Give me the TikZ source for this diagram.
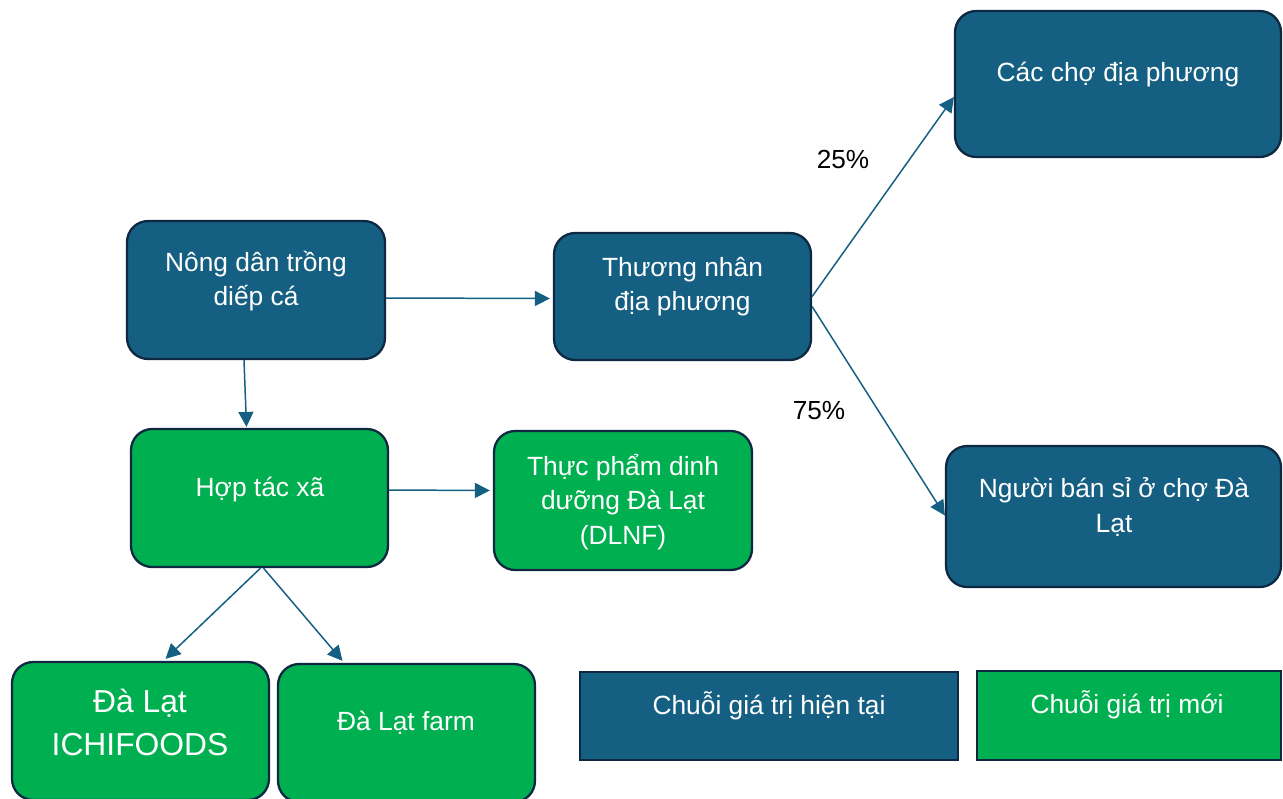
\documentclass[tikz,border=0pt]{standalone}
\usepackage{fontspec}
\setmainfont{Liberation Sans}
\usetikzlibrary{arrows.meta, calc}
\definecolor{chainblue}{RGB}{21, 96, 130}
\definecolor{chaingreen}{RGB}{0, 176, 80}
\definecolor{edgedark}{RGB}{14, 40, 65}

\tikzset{
  stage/.style={draw=edgedark, line width=1.3pt, rounded corners=12pt, inner sep=0pt},
  oldstage/.style={stage, fill=chainblue},
  newstage/.style={stage, fill=chaingreen},
  legendbox/.style={draw=edgedark, line width=1.3pt, inner sep=0pt},
  inlabel/.style={text=white, align=center, font=\fontsize{15}{19.4}\selectfont},
  biglabel/.style={text=white, align=center, font=\fontsize{18.1}{24.4}\selectfont},
  share/.style={text=black, font=\fontsize{14.9}{18}\selectfont},
  flow/.style={draw=chainblue, line width=0.85pt, -{Triangle[length=8.5pt, width=8.5pt]}}
}

\begin{document}
\begin{tikzpicture}[x=0.02cm, y=-0.02cm]
  \useasboundingbox (0,0) rectangle (1283,798);

  % Current chain
  \node[oldstage, minimum width=5.16cm, minimum height=2.76cm] (farmer) at (256,290) {};
  \node[inlabel] (farmer-l) at (256,281) {Nông dân trồng\\diếp cá};

  \node[oldstage, minimum width=5.14cm, minimum height=2.54cm] (trader) at (682.5,296.5) {};
  \node[inlabel] (trader-l) at (682.5,287) {Thương nhân\\địa phương};

  \node[oldstage, minimum width=6.52cm, minimum height=2.92cm] (market) at (1118,84) {};
  \node[inlabel] (market-l) at (1118,75) {Các chợ địa phương};

  \node[oldstage, minimum width=6.70cm, minimum height=2.82cm] (wholesale) at (1113.5,516.5) {};
  \node[inlabel] (wholesale-l) at (1114,507) {Người bán sỉ ở chợ Đà\\Lạt};

  % New chain
  \node[newstage, minimum width=5.14cm, minimum height=2.76cm] (coop) at (259.5,498) {};
  \node[inlabel] (coop-l) at (260,490) {Hợp tác xã};

  \node[newstage, minimum width=5.16cm, minimum height=2.78cm] (dlnf) at (623,500.5) {};
  \node[inlabel] (dlnf-l) at (623,502) {Thực phẩm dinh\\dưỡng Đà Lạt\\(DLNF)};

  \node[newstage, minimum width=5.14cm, minimum height=2.76cm] (ichi) at (140.5,731) {};
  \node[biglabel] (ichi-l) at (140,722) {Đà Lạt\\ICHIFOODS};

  \node[newstage, minimum width=5.14cm, minimum height=2.76cm] (farm) at (406.5,733) {};
  \node[inlabel] (farm-l) at (406,723) {Đà Lạt farm};

  % Shares
  \node[share] (p25) at (843,159) {25\%};
  \node[share] (p75) at (819,411) {75\%};

  % Arrows
  \draw[flow] ($(farmer.east)+(0,8)$) -- ($(trader.west)+(-3,2)$);
  \draw[flow] ($(farmer.south)+(-12,0)$) -- ($(coop.north)+(-13,-1)$);
  \draw[flow] (trader.east) -- ($(market.west)+(0,13)$);
  \draw[flow] ($(trader.east)+(0,10)$) -- ($(wholesale.west)+(0,-1)$);
  \draw[flow] ($(coop.east)+(0,-8)$) -- ($(dlnf.west)+(-3,-10)$);
  \draw[flow] ($(coop.south)+(1,0)$) -- ($(ichi.north)+(25,-2)$);
  \draw[flow] ($(coop.south)+(4,0)$) -- ($(farm.north)+(-64,-2)$);

  % Legend
  \node[legendbox, fill=chainblue, minimum width=7.56cm, minimum height=1.76cm] (key-old) at (769,716) {};
  \node[inlabel] (key-old-l) at (769,706) {Chuỗi giá trị hiện tại};
  \node[legendbox, fill=chaingreen, minimum width=6.08cm, minimum height=1.78cm] (key-new) at (1129,715.5) {};
  \node[inlabel] (key-new-l) at (1127,705) {Chuỗi giá trị mới};
\end{tikzpicture}
\end{document}
